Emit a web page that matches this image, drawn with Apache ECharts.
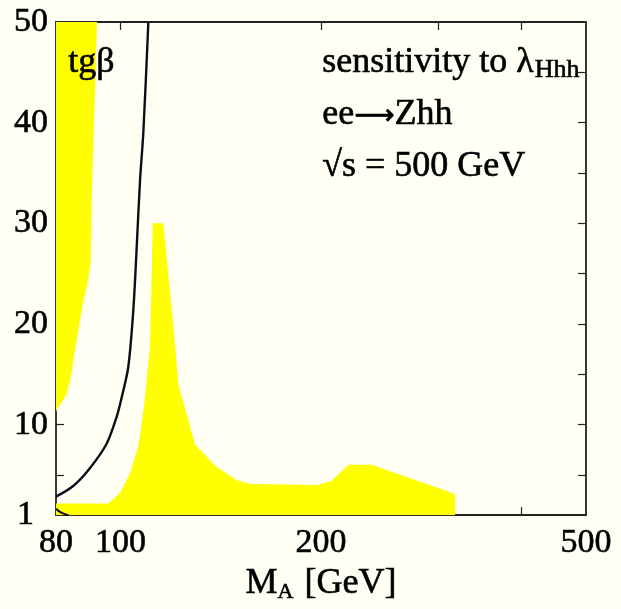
<!DOCTYPE html>
<html><head><meta charset="utf-8">
<script src="https://cdn.jsdelivr.net/npm/echarts@6/dist/echarts.min.js"></script>
<style>html,body{margin:0;padding:0;background:#fffff4}#c{width:621px;height:609px}</style>
</head><body><div id="c"></div>
<script>
// tick / label values
const xLabelValues = [80, 100, 200, 500];
const xTickValues = [90, 100, 200, 300, 400];
const yLabelValues = [1, 10, 20, 30, 40, 50];
const yTickValues = [5, 10, 15, 20, 25, 30, 35, 40, 45];

// left yellow region: lower boundary (M_A, tgβ), filled up to tgβ = 50
const leftRegionMA  = [80, 80.2, 83, 84.2, 85.7, 87.4, 89.5, 90.2, 90.5, 92.2];
const leftRegionTgb = [11.25, 11.45, 13, 14.7, 18, 21.3, 24.6, 26.2, 32.5, 50];

// main yellow region: upper boundary (M_A, tgβ), filled down to tgβ = 1
const mainRegionMA  = [80, 95.9, 99.8, 103.3, 106.3, 107.6, 108.8, 110.7, 111.8, 115.9, 120.1, 122.1, 129.4, 139.4, 149.4, 156.5, 197.1, 207.5, 219.8, 238.3, 317.9, 318];
const mainRegionTgb = [2.15, 2.15, 3.2, 5.17, 7.8, 10.1, 12.7, 17.7, 30, 30, 19.6, 14.0, 8.0, 5.8, 4.5, 4.1, 4.0, 4.4, 6.0, 6.0, 3.1, 1];

// black contour
const curveMA  = [80, 84.9, 90, 95.3, 98.7, 100.4, 102.7, 104.5, 105.8, 107, 108.2, 110.1];
const curveTgb = [2.85, 3.9, 5.7, 8.1, 10.8, 12.7, 15.7, 21.3, 27.9, 34.4, 39, 50];

// small black contour in the lower-left corner
const cornerMA  = [80, 81, 82.5, 83.5];
const cornerTgb = [1.65, 1.35, 1.1, 1.0];

const zip = (a, b) => a.map((v, i) => [v, b[i]]);
const SERIF = 'Liberation Serif';
const axisCol = '#222';
const YEL = '#ffff00';
const thick = {textBorderColor: '#000', textBorderWidth: 0.6};
const gThick = {fill: '#000', stroke: '#000', lineWidth: 0.6};

const chart = echarts.init(document.getElementById('c'), null, {renderer: 'canvas'});

function xAxisDef(pos, showLabels) {
  return {
    type: 'log', logBase: 10, min: 80, max: 500, position: pos,
    axisLine: {show: true, onZero: false, lineStyle: {color: axisCol, width: 1.8}},
    axisTick: {show: true, inside: true, length: 8, customValues: xTickValues, lineStyle: {color: axisCol, width: 1.2}},
    minorTick: {show: false},
    splitLine: {show: false},
    axisLabel: Object.assign({show: showLabels, customValues: xLabelValues, fontFamily: SERIF, fontSize: 34, color: '#000', margin: 11}, thick),
    name: showLabels ? '{m|M}{s|A}{m| [GeV]}' : '',
    nameLocation: 'middle', nameGap: 48,
    nameTextStyle: {
      rich: {
        m: Object.assign({fontFamily: SERIF, fontSize: 36, color: '#000'}, thick),
        s: Object.assign({fontFamily: SERIF, fontSize: 22, color: '#000', padding: [18, 2, 0, 0]}, thick)
      }
    }
  };
}
function yAxisDef(pos, showLabels) {
  return {
    type: 'value', min: 1, max: 50, position: pos,
    axisLine: {show: true, onZero: false, lineStyle: {color: axisCol, width: 1.8}},
    axisTick: {show: true, inside: true, length: 8, customValues: yTickValues, lineStyle: {color: axisCol, width: 1.2}},
    splitLine: {show: false},
    axisLabel: {
      show: showLabels, customValues: yLabelValues, margin: 8,
      formatter: v => v === 1 ? '{one|1}' : '{n|' + v + '}',
      rich: {
        n: Object.assign({fontFamily: SERIF, fontSize: 34, color: '#000'}, thick),
        one: Object.assign({fontFamily: SERIF, fontSize: 34, color: '#000', padding: [0, 14, 0, 0]}, thick)
      }
    }
  };
}

chart.setOption({
  backgroundColor: '#fffff4',
  animation: false,
  grid: {left: 56, right: 35, top: 22, bottom: 90, containLabel: false},
  xAxis: [xAxisDef('bottom', true), xAxisDef('top', false)],
  yAxis: [yAxisDef('left', true), yAxisDef('right', false)],
  series: [
    {
      type: 'line', xAxisIndex: 0, yAxisIndex: 0, data: zip(leftRegionMA, leftRegionTgb),
      symbol: 'none', lineStyle: {width: 0}, areaStyle: {color: YEL, opacity: 1, origin: 'end'}, z: 1
    },
    {
      type: 'line', xAxisIndex: 0, yAxisIndex: 0, data: zip(mainRegionMA, mainRegionTgb),
      symbol: 'none', lineStyle: {width: 0}, areaStyle: {color: YEL, opacity: 1, origin: 'start'}, z: 1
    },
    {
      type: 'line', xAxisIndex: 0, yAxisIndex: 0, data: zip(curveMA, curveTgb),
      symbol: 'none', smooth: 0.3, lineStyle: {color: '#0d0d1a', width: 2.4}, z: 3
    },
    {
      type: 'line', xAxisIndex: 0, yAxisIndex: 0, data: zip(cornerMA, cornerTgb),
      symbol: 'none', smooth: 0.3, lineStyle: {color: '#0d0d1a', width: 2}, z: 3
    }
  ],
  graphic: [
    {type: 'text', left: 68, top: 44, z: 10,
     style: Object.assign({text: 'tgβ', fontFamily: SERIF, fontSize: 36}, gThick)},
    {type: 'text', left: 322, top: 44, z: 10,
     style: {text: '{a|sensitivity to λ}{b|Hhh}', rich: {
       a: Object.assign({fontFamily: SERIF, fontSize: 36}, gThick),
       b: Object.assign({fontFamily: SERIF, fontSize: 26, padding: [16, 0, 0, 1]}, gThick)
     }}},
    {type: 'text', left: 322, top: 96, z: 10,
     style: {text: '{a|ee}{r|⟶}{a|Zhh}', rich: {
       a: Object.assign({fontFamily: SERIF, fontSize: 36}, gThick),
       r: {fontFamily: 'DejaVu Sans', fontSize: 28, fill: '#000', stroke: '#000', lineWidth: 0.8, padding: [4, 0, 0, 0]}
     }}},
    {type: 'text', left: 322, top: 148, z: 10,
     style: Object.assign({text: '√s = 500 GeV', fontFamily: SERIF, fontSize: 36}, gThick)}
  ]
});
</script></body></html>
